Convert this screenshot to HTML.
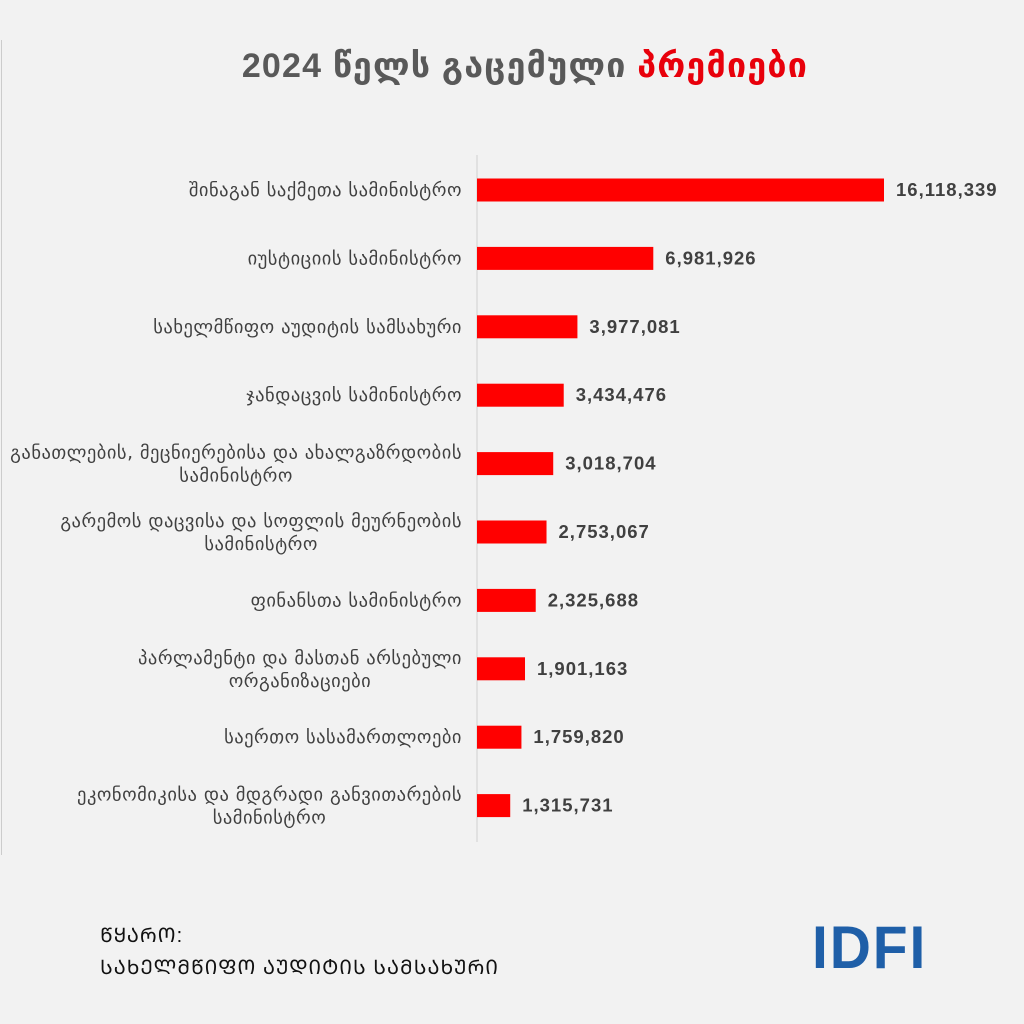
<!DOCTYPE html>
<html><head><meta charset="utf-8"><style>
html,body{margin:0;padding:0}
body{width:1024px;height:1024px;background:#f2f2f2;position:relative;overflow:hidden;font-family:"Liberation Sans","DejaVu Sans",sans-serif}
#title{position:absolute;top:46px;left:0;width:1050px;text-align:center;font-size:34px;letter-spacing:1.2px;font-weight:bold;color:#595959}
#title span{color:#e8000b}
.src{position:absolute;left:100px;font-size:20px;letter-spacing:1px;color:#111}
</style></head><body>
<div style="position:absolute;left:1px;top:40px;width:1px;height:815px;background:#ccc"></div>
<div id="title">2024 წელს გაცემული <span>პრემიები</span></div>
<svg id="chart" width="1024" height="1024" style="position:absolute;left:0;top:0"></svg>
<div class="src" style="top:921px">ᲬᲧᲐᲠᲝ:</div>
<div class="src" style="top:953px">ᲡᲐᲮᲔᲚᲛᲬᲘᲤᲝ ᲐᲣᲓᲘᲢᲘᲡ ᲡᲐᲛᲡᲐᲮᲣᲠᲘ</div>
<div style="position:absolute;left:812px;top:918px;font-size:60px;font-weight:bold;color:#1f5fa8;letter-spacing:2px;line-height:60px;transform:scaleX(0.95);transform-origin:left">IDFI</div>
<script>
const categories=[["შინაგან საქმეთა სამინისტრო"],["იუსტიციის სამინისტრო"],["სახელმწიფო აუდიტის სამსახური"],["ჯანდაცვის სამინისტრო"],["განათლების, მეცნიერებისა და ახალგაზრდობის","სამინისტრო"],["გარემოს დაცვისა და სოფლის მეურნეობის","სამინისტრო"],["ფინანსთა სამინისტრო"],["პარლამენტი და მასთან არსებული","ორგანიზაციები"],["საერთო სასამართლოები"],["ეკონომიკისა და მდგრადი განვითარების","სამინისტრო"]];
const values=[16118339,6981926,3977081,3434476,3018704,2753067,2325688,1901163,1759820,1315731];
const NS="http://www.w3.org/2000/svg";
const svg=document.getElementById('chart');
const x0=477, pxPer=407/16118339;
const xScale=v=>v*pxPer;
const yCenter=i=>190+i*68.4;
function mk(t,a){const e=document.createElementNS(NS,t);for(const k in a)e.setAttribute(k,a[k]);svg.appendChild(e);return e;}
const ax=mk('line',{x1:x0,x2:x0,y1:155,y2:842,stroke:'#d0d0d0','stroke-width':1});


const lblStyle={'font-size':18.5,'letter-spacing':0.5,fill:'#404040','font-family':'DejaVu Sans,sans-serif'};
values.forEach((v,i)=>{
  const c=yCenter(i), w=xScale(v);
  const r=mk('rect',{x:x0,y:c-11.5,width:w,height:23,fill:'#ff0000'});
  
  
  const t=mk('text',{x:x0+w+12,y:c+6,'font-size':18.5,'letter-spacing':1,'font-weight':'bold',fill:'#404040','font-family':'Liberation Sans,sans-serif'});
  t.textContent=v.toLocaleString('en-US');
  
  
  const lines=categories[i];
  if(lines.length===1){
    const l=mk('text',Object.assign({x:462,y:c+6,'text-anchor':'end'},lblStyle));
    l.textContent=lines[0];
    
    
  } else {
    const g=mk('g',{});
    
    
    const l1=document.createElementNS(NS,'text');
    for(const k in lblStyle)l1.setAttribute(k,lblStyle[k]);
    l1.setAttribute('x',462);l1.setAttribute('y',c-5);l1.setAttribute('text-anchor','end');
    l1.textContent=lines[0];g.appendChild(l1);
    const wdt=l1.getComputedTextLength();
    const l2=document.createElementNS(NS,'text');
    for(const k in lblStyle)l2.setAttribute(k,lblStyle[k]);
    l2.setAttribute('x',462-wdt/2);l2.setAttribute('y',c+18);l2.setAttribute('text-anchor','middle');
    l2.textContent=lines[1];g.appendChild(l2);
  }
});
</script>
</body></html>
